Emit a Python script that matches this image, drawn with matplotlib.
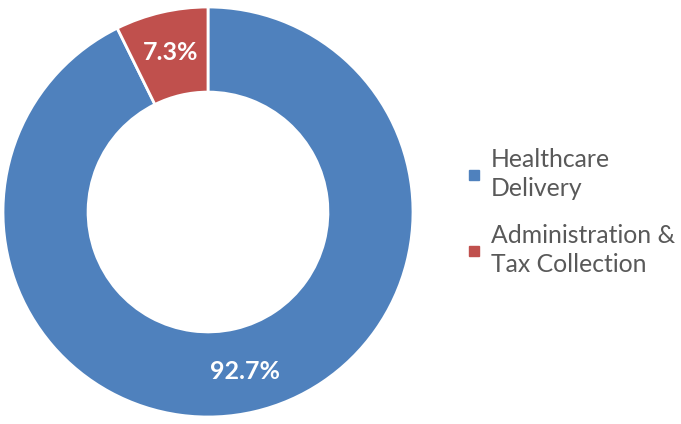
import matplotlib.pyplot as plt
from matplotlib.lines import Line2D

categories = ['Healthcare\nDelivery', 'Administration &\nTax Collection']
shares = [92.7, 7.3]
colors = ['#4F81BD', '#C0504D']

plt.rcParams['font.family'] = ['Lato', 'DejaVu Sans']

fig = plt.figure(figsize=(6.81, 4.24), dpi=100)
ax = fig.add_axes([3/681, 7/424, 410/681, 410/424])

wedges, texts, autotexts = ax.pie(
    shares, colors=colors, startangle=90, counterclock=False,
    radius=1, autopct='%1.1f%%', pctdistance=0.8,
    wedgeprops=dict(width=0.415, edgecolor='white', linewidth=2),
    textprops=dict(color='white', fontsize=18, fontweight='bold'))
ax.set_xlim(-1, 1)
ax.set_ylim(-1, 1)
ax.set_aspect('equal')

handles = [Line2D([], [], marker='s', linestyle='none', markersize=7.5,
                  markerfacecolor=c, markeredgecolor=c) for c in colors]
leg = fig.legend(handles, categories, loc='center left',
                 bbox_to_anchor=(444/681, 1 - 212/424), frameon=False,
                 fontsize=17.8, labelcolor='#595959', handlelength=0.6,
                 handletextpad=0.4, labelspacing=0.95)
for t in leg.get_texts():
    t.set_linespacing(1.35)

fig.savefig('out.png', dpi=100)
